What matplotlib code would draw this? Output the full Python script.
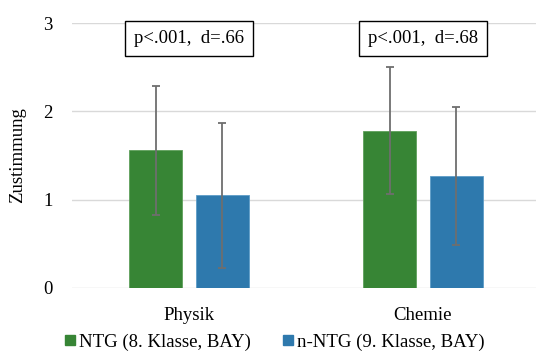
import numpy as np
import matplotlib.pyplot as plt
from matplotlib.lines import Line2D

categories = ["Physik", "Chemie"]
series = ["NTG (8. Klasse, BAY)", "n-NTG (9. Klasse, BAY)"]
ntg_mean = [1.56, 1.78]
ntg_sd = [0.73, 0.72]
nntg_mean = [1.05, 1.27]
nntg_sd = [0.82, 0.78]
stats = ["p<.001,  d=.66", "p<.001,  d=.68"]

green = "#378535"
blue = "#2e79ad"

plt.rcParams["font.family"] = ["Liberation Serif", "DejaVu Serif"]

fig = plt.figure(figsize=(5.36, 3.54), dpi=100)
ax = fig.add_axes([72 / 536, 1 - 288 / 354, 464 / 536, 265 / 354])

x = np.arange(len(categories))
w = 0.226
off = 0.142
err_kw = dict(ecolor="#6e6e6e", elinewidth=1.3, capsize=3, capthick=1.3)
ax.bar(x - off, ntg_mean, w, yerr=ntg_sd, color=green, edgecolor="#5fa05c",
       linewidth=0.6, error_kw=err_kw, zorder=2)
ax.bar(x + off, nntg_mean, w, yerr=nntg_sd, color=blue, edgecolor="#5d9cc7",
       linewidth=0.6, error_kw=err_kw, zorder=2)

for xi, s in zip(x, stats):
    ax.text(xi, 2.83, s, ha="center", va="center", fontsize=13.5,
            bbox=dict(boxstyle="square,pad=0.48", facecolor="white",
                      edgecolor="black", linewidth=1.0))

ax.set_xlim(-0.5, 1.483)
ax.set_ylim(0, 3)
ax.set_yticks([0, 1, 2, 3])
ax.set_xticks(x)
ax.set_xticklabels(categories)
ax.tick_params(axis="both", length=0, labelsize=13.5)
ax.tick_params(axis="x", pad=14)
ax.tick_params(axis="y", pad=14)
ax.yaxis.grid(True, color="#d9d9d9", linewidth=1.0, zorder=0)
ax.set_axisbelow(True)
for sp in ax.spines.values():
    sp.set_visible(False)
ax.set_ylabel("Zustimmung", fontsize=13.5, labelpad=12)

handles = [Line2D([], [], marker="s", linestyle="none", markersize=6.5,
                  markerfacecolor=c, markeredgecolor=c) for c in (green, blue)]
fig.legend(handles, series, loc="center", bbox_to_anchor=(274 / 536, 1 - 342 / 354),
           ncol=2, frameon=False, fontsize=13.5, handletextpad=0.15,
           columnspacing=1.6, handlelength=0.7)

fig.savefig("out.png", dpi=100)
